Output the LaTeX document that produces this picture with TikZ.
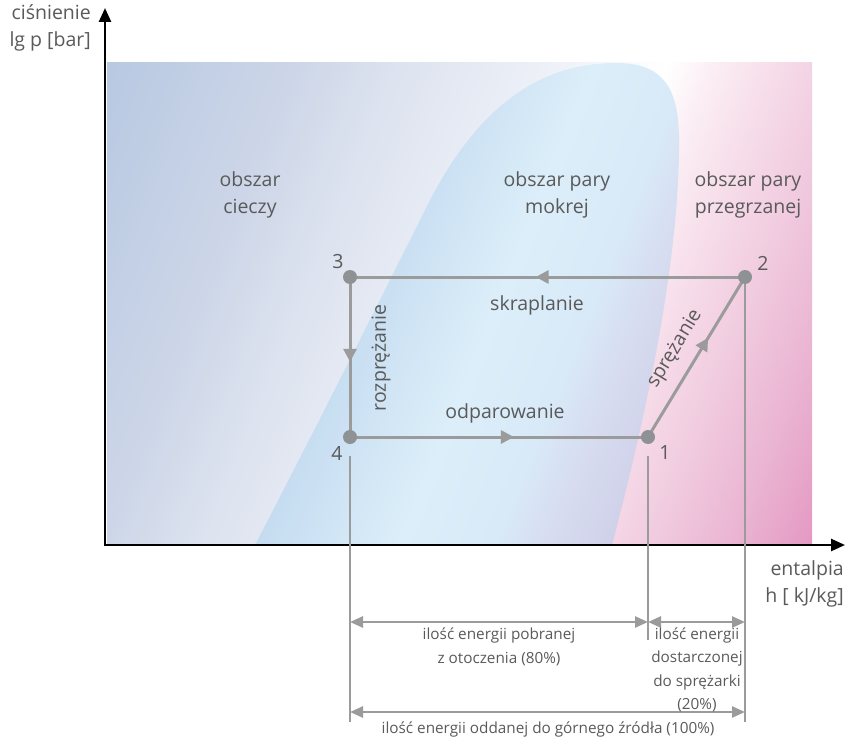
\documentclass[tikz,border=0pt]{standalone}
\usepackage{fontspec}
\setmainfont{Open Sans}
\usetikzlibrary{arrows.meta, positioning, decorations.markings}
\definecolor{cyclegray}{HTML}{9B9B9B}
\definecolor{dotgray}{HTML}{8E9295}
\definecolor{txtgray}{HTML}{5A5A5A}
% background and dome gradients, laid out in the tilted frame (25bp..75bp spans the box)
\pgfdeclarehorizontalshading{regshade}{100bp}{color(0bp)=(rgb,255:red,184;green,201;blue,226);
  color(26bp)=(rgb,255:red,184;green,201;blue,226); color(36bp)=(rgb,255:red,205;green,214;blue,232);
  color(41.5bp)=(rgb,255:red,221;green,227;blue,239); color(50bp)=(rgb,255:red,238;green,241;blue,248);
  color(56bp)=(white); color(58.5bp)=(rgb,255:red,251;green,238;blue,244);
  color(62bp)=(rgb,255:red,246;green,220;blue,233); color(66bp)=(rgb,255:red,240;green,201;blue,222);
  color(70bp)=(rgb,255:red,234;green,180;blue,210);
  color(75bp)=(rgb,255:red,227;green,148;blue,192); color(100bp)=(rgb,255:red,227;green,148;blue,192)}
\pgfdeclarehorizontalshading{domeshade}{100bp}{color(0bp)=(rgb,255:red,196;green,219;blue,240);
  color(44bp)=(rgb,255:red,196;green,219;blue,240); color(52bp)=(rgb,255:red,220;green,238;blue,249);
  color(57bp)=(rgb,255:red,216;green,234;blue,248); color(60bp)=(rgb,255:red,215;green,220;blue,240);
  color(64bp)=(rgb,255:red,206;green,207;blue,231); color(100bp)=(rgb,255:red,206;green,207;blue,231)}

\begin{document}
\begin{tikzpicture}[x=1pt, y=-1pt,
    lbl/.style={text=txtgray, font=\fontsize{19.5}{27}\selectfont, align=center, inner sep=0pt},
    small/.style={text=txtgray, font=\fontsize{15.3}{23.5}\selectfont, align=center, inner sep=0pt},
    tilted/.style={transform canvas={rotate around={-22:(459.5,304)}}},
    cycleline/.style={cyclegray, line width=3pt},
    flow/.style={cycleline, postaction={decorate},
      decoration={markings, mark=at position #1 with {\arrow{Triangle[length=13pt,width=13pt]}}}},
    extline/.style={cyclegray, line width=2.5pt},
    dimarrow/.style={cyclegray, line width=2.5pt, {Triangle[length=13pt,width=11pt]}-{Triangle[length=13pt,width=11pt]}}]
  \useasboundingbox (0,0) rectangle (845,738);

  % regions
  \begin{scope}
    \clip (107,63) rectangle (812,545);
    \shade[shading=regshade, tilted] (30,-120) rectangle (889,730);
  \end{scope}
  \begin{scope}
    \clip (255,545) .. controls (320,420) and (380,300) .. (430,200)
      .. controls (490,85) and (560,63) .. (617,63)
      .. controls (672,63) and (680,100) .. (679,150)
      .. controls (678,260) and (650,400) .. (612,545) -- cycle;
    \shade[shading=domeshade, tilted] (30,-120) rectangle (889,730);
  \end{scope}

  % axes
  \coordinate (origin) at (105,545);
  \coordinate (ytip) at (105,8);
  \coordinate (xtip) at (845,545);
  \draw[line width=2.5pt, -{Triangle[length=14pt,width=12pt]}] ([yshift=-1.25pt]origin) -- (ytip);
  \draw[line width=2.5pt, -{Triangle[length=14pt,width=12pt]}] ([xshift=-1.25pt]origin) -- (xtip);
  \node[lbl, align=right, anchor=north east] (ylab) at (91,4) {ciśnienie\\lg p [bar]};
  \node[lbl, align=right, anchor=north east] (xlab) at (844,560) {entalpia\\h [ kJ/kg]};

  % region names
  \node[lbl] (liq) at (250,195) {obszar\\cieczy};
  \node[lbl] (wet) at (557,195) {obszar pary\\mokrej};
  \node[lbl] (sup) at (748,195) {obszar pary\\przegrzanej};

  % cycle points
  \coordinate (p1) at (648,437);
  \coordinate (p2) at (745,277);
  \coordinate (p3) at (350,277);
  \coordinate (p4) at (350,437);

  % extension lines
  \coordinate (t4) at (350,456);
  \coordinate (t1) at (648,456);
  \coordinate (b4) at (350,722);
  \coordinate (b1) at (648,640);
  \coordinate (b2) at (745,722);
  \draw[extline] (t4) -- (b4);
  \draw[extline] (t1) -- (b1);
  \draw[extline] (p2) -- (b2);

  % cycle
  \draw[flow=0.53] (p2) -- (p3);
  \draw[flow=0.53] (p3) -- (p4);
  \draw[flow=0.55] (p4) -- (p1);
  \draw[flow=0.62] (p1) -- (p2);
  \foreach \p in {p1,p2,p3,p4} {
    \fill[dotgray] (\p) circle (7);
  }
  \node[lbl] (n1) at (665,453) {1};
  \node[lbl] (n2) at (763,263) {2};
  \node[lbl] (n3) at (338,262) {3};
  \node[lbl] (n4) at (337,453) {4};
  \node[lbl] (skr) at (537,305) {skraplanie};
  \node[lbl] (odp) at (505,413) {odparowanie};
  \node[lbl, rotate=90] (roz) at (381,358) {rozprężanie};
  \node[lbl, rotate=58.8] (spr) at (675,349) {sprężanie};

  % energy shares
  \coordinate (a4) at (350,622);
  \coordinate (a1) at (648,622);
  \coordinate (a2) at (745,622);
  \coordinate (c4) at (350,712);
  \coordinate (c2) at (745,712);
  \draw[dimarrow] (a4) -- (a1);
  \draw[dimarrow] (a1) -- (a2);
  \draw[dimarrow] (c4) -- (c2);
  \node[small] (pob) at (499,647) {ilość energii pobranej\\z otoczenia (80\%)};
  \node[small] (dos) at (697,670) {ilość energii\\dostarczonej\\do sprężarki\\(20\%)};
  \node[small] (odd) at (548,729) {ilość energii oddanej do górnego źródła (100\%)};
\end{tikzpicture}
\end{document}
